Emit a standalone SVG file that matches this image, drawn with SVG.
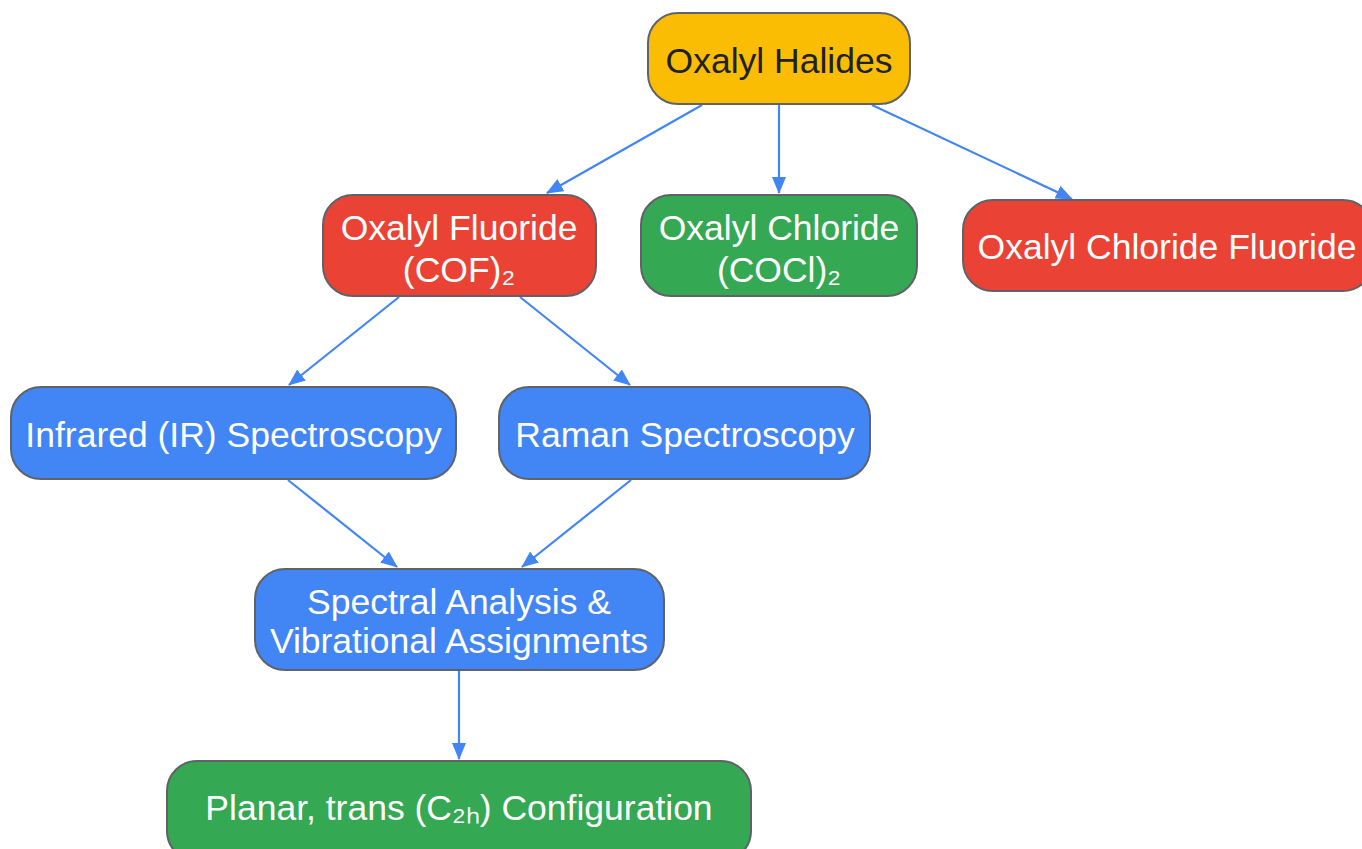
<svg xmlns="http://www.w3.org/2000/svg" width="1362" height="849" viewBox="0 0 1362 849">
<style>
.n{stroke:#5f6368;stroke-width:2}
.y{fill:#FBBC04}.r{fill:#EA4335}.g{fill:#34A853}.b{fill:#4285F4}
text{font-family:"Liberation Sans",Arial,sans-serif;font-size:35.5px;text-anchor:middle;fill:#fff}
.dk{fill:#202124}
.e{stroke:#4285F4;stroke-width:2.2;fill:none;marker-end:url(#ah)}
</style>
<defs>
<marker id="ah" markerUnits="userSpaceOnUse" markerWidth="18" markerHeight="14" refX="16" refY="7" orient="auto">
<path d="M0,0 L17,7 L0,14 Z" fill="#4285F4"/>
</marker>
</defs>
<rect width="1362" height="849" fill="#fff"/>
<g id="connectors">
<line class="e" x1="702" y1="105" x2="547" y2="193"/>
<line class="e" x1="779" y1="105" x2="779" y2="193"/>
<line class="e" x1="872" y1="105" x2="1072" y2="199"/>
<line class="e" x1="399" y1="297" x2="289" y2="385"/>
<line class="e" x1="520" y1="297" x2="630" y2="385"/>
<line class="e" x1="288" y1="480" x2="397" y2="567"/>
<line class="e" x1="631" y1="480" x2="522" y2="567"/>
<line class="e" x1="459" y1="671" x2="459" y2="759"/>
</g>
<g id="halides"><rect class="n y" x="648" y="13" width="262" height="91" rx="30"/><text class="dk" x="779" y="73">Oxalyl Halides</text></g>
<g id="fluoride"><rect class="n r" x="323" y="195" width="273" height="101" rx="30"/><text x="459" y="240">Oxalyl Fluoride</text><text x="459" y="282">(COF)₂</text></g>
<g id="chloride"><rect class="n g" x="641" y="195" width="276" height="101" rx="30"/><text x="779" y="240">Oxalyl Chloride</text><text x="779" y="282">(COCl)₂</text></g>
<g id="chlorofluoride"><rect class="n r" x="963" y="200" width="410" height="91" rx="30"/><text x="1167" y="259">Oxalyl Chloride Fluoride</text></g>
<g id="ir"><rect class="n b" x="11" y="387" width="445" height="92" rx="30"/><text x="233.5" y="447">Infrared (IR) Spectroscopy</text></g>
<g id="raman"><rect class="n b" x="499" y="387" width="371" height="92" rx="30"/><text x="685" y="447">Raman Spectroscopy</text></g>
<g id="spectral"><rect class="n b" x="255" y="569" width="409" height="101" rx="30"/><text x="459" y="614">Spectral Analysis &amp;</text><text x="459" y="653">Vibrational Assignments</text></g>
<g id="planar"><rect class="n g" x="167" y="761" width="584" height="100" rx="30"/><text x="459" y="820">Planar, trans (C₂ₕ) Configuration</text></g>
</svg>
